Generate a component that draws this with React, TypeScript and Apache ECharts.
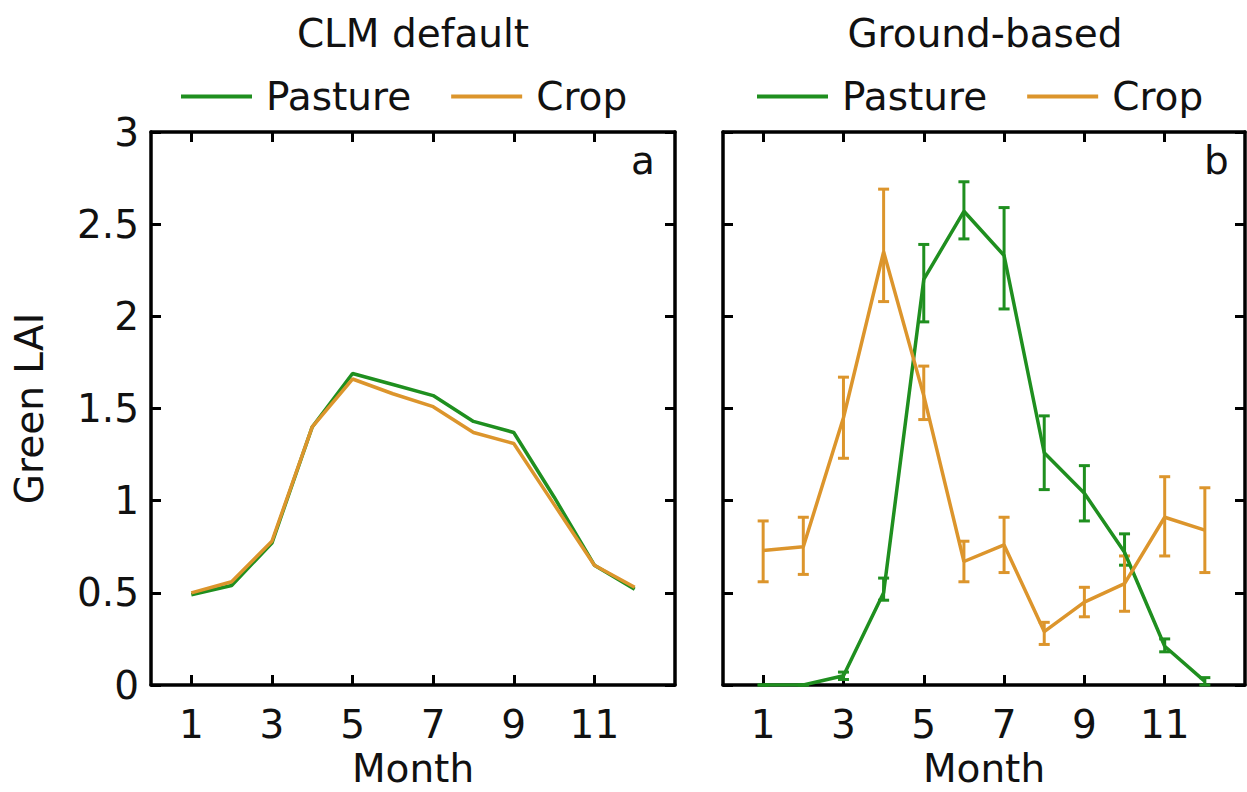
import React, { useEffect, useRef } from "react";
import * as echarts from "echarts";

// ---- data ----
const months = [1, 2, 3, 4, 5, 6, 7, 8, 9, 10, 11, 12];
const xTickValues = [1, 3, 5, 7, 9, 11];
const panelTitles = ["CLM default", "Ground-based"];
const panelLetters = ["a", "b"];
const seriesNames = ["Pasture", "Crop"];

// panel a: CLM default
const clmPasture = [0.49, 0.54, 0.77, 1.4, 1.69, 1.63, 1.57, 1.43, 1.37, 1.02, 0.65, 0.52];
const clmCrop = [0.5, 0.56, 0.78, 1.4, 1.66, 1.58, 1.51, 1.37, 1.31, 0.98, 0.65, 0.53];

// panel b: ground-based (mean, low, high)
const groundPasture = [0.0, 0.0, 0.05, 0.5, 2.2, 2.57, 2.33, 1.26, 1.04, 0.72, 0.21, 0.02];
const groundPastureLow = [0.0, 0.0, 0.03, 0.46, 1.97, 2.42, 2.04, 1.06, 0.89, 0.65, 0.18, 0.0];
const groundPastureHigh = [0.0, 0.0, 0.07, 0.58, 2.39, 2.73, 2.59, 1.46, 1.19, 0.82, 0.25, 0.04];

const groundCrop = [0.73, 0.75, 1.45, 2.35, 1.57, 0.67, 0.76, 0.29, 0.45, 0.55, 0.91, 0.84];
const groundCropLow = [0.56, 0.6, 1.23, 2.08, 1.44, 0.56, 0.61, 0.22, 0.37, 0.4, 0.7, 0.61];
const groundCropHigh = [0.89, 0.91, 1.67, 2.69, 1.73, 0.78, 0.91, 0.34, 0.53, 0.7, 1.13, 1.07];

const GREEN = "#1f8f1f";
const ORANGE = "#dc952c";
const FONT = "DejaVu Sans";
const FS = 39;

function xAxisCfg(gridIndex: number, position: "top" | "bottom") {
  const bottom = position === "bottom";
  return {
    type: "value",
    gridIndex,
    position,
    min: 0,
    max: 13,
    axisLine: { show: true, onZero: false, lineStyle: { color: "#000", width: 3.5 } },
    axisTick: {
      show: true,
      inside: true,
      length: 10,
      customValues: xTickValues,
      lineStyle: { color: "#000", width: 3 },
    },
    axisLabel: {
      show: bottom,
      customValues: xTickValues,
      fontSize: FS,
      fontFamily: FONT,
      color: "#111",
      margin: 20,
    },
    splitLine: { show: false },
    name: bottom ? "Month" : "",
    nameLocation: "middle",
    nameGap: 63,
    nameTextStyle: { fontSize: FS, fontFamily: FONT, color: "#111" },
  };
}

function yAxisCfg(gridIndex: number, position: "left" | "right", labels: boolean) {
  return {
    type: "value",
    gridIndex,
    position,
    min: 0,
    max: 3,
    interval: 0.5,
    axisLine: { show: true, onZero: false, lineStyle: { color: "#000", width: 3.5 } },
    axisTick: { show: true, inside: true, length: 10, lineStyle: { color: "#000", width: 3 } },
    axisLabel: { show: labels, fontSize: FS, fontFamily: FONT, color: "#111", margin: 12 },
    splitLine: { show: false },
    name: labels ? "Green LAI" : "",
    nameLocation: "middle",
    nameRotate: 90,
    nameGap: 102,
    nameTextStyle: { fontSize: FS, fontFamily: FONT, color: "#111" },
  };
}

function errorSeries(name: string, low: number[], high: number[], color: string) {
  return {
    type: "custom",
    name,
    xAxisIndex: 2,
    yAxisIndex: 2,
    data: months.map((m, i) => [m, low[i], high[i]]),
    encode: { x: 0, y: [1, 2] },
    z: 3,
    renderItem: (params: any, api: any) => {
      const x = api.value(0);
      const top = api.coord([x, api.value(2)]);
      const bot = api.coord([x, api.value(1)]);
      const w = 5.5;
      const style = { stroke: color, lineWidth: 3 };
      return {
        type: "group",
        children: [
          { type: "line", shape: { x1: top[0], y1: top[1], x2: bot[0], y2: bot[1] }, style },
          { type: "line", shape: { x1: top[0] - w, y1: top[1], x2: top[0] + w, y2: top[1] }, style },
          { type: "line", shape: { x1: bot[0] - w, y1: bot[1], x2: bot[0] + w, y2: bot[1] }, style },
        ],
      };
    },
  };
}

function lineSeries(name: string, values: number[], color: string, axis: number) {
  return {
    type: "line",
    name,
    xAxisIndex: axis,
    yAxisIndex: axis,
    data: months.map((m, i) => [m, values[i]]),
    symbol: "none",
    lineStyle: { color, width: 3.5 },
    itemStyle: { color },
    z: 4,
  };
}

export default function App() {
  const ref = useRef<HTMLDivElement>(null);
  useEffect(() => {
    if (!ref.current) return;
    const chart = echarts.init(ref.current, null, { renderer: "svg" });
    const legendBase = {
      data: seriesNames,
      top: 77,
      padding: 0,
      itemWidth: 71,
      itemHeight: 4,
      itemGap: 40,
      icon: "rect",
      selectedMode: false,
      textStyle: { fontSize: FS, fontFamily: FONT, color: "#111", padding: [0, 0, 0, 9] },
    };
    const titleStyle = { fontSize: FS, fontFamily: FONT, color: "#111", fontWeight: "normal" };
    chart.setOption({
      animation: false,
      backgroundColor: "#fff",
      title: [
        { text: panelTitles[0], left: 413, top: 14, textAlign: "center", padding: 0, textStyle: titleStyle },
        { text: panelTitles[1], left: 985, top: 14, textAlign: "center", padding: 0, textStyle: titleStyle },
      ],
      legend: [
        { ...legendBase, left: 181 },
        { ...legendBase, left: 757 },
      ],
      grid: [
        { left: 151, top: 132, width: 524, height: 553, containLabel: false, outerBoundsMode: "none" },
        { left: 723, top: 132, width: 522, height: 553, containLabel: false, outerBoundsMode: "none" },
      ],
      xAxis: [xAxisCfg(0, "bottom"), xAxisCfg(0, "top"), xAxisCfg(1, "bottom"), xAxisCfg(1, "top")],
      yAxis: [yAxisCfg(0, "left", true), yAxisCfg(0, "right", false), yAxisCfg(1, "left", false), yAxisCfg(1, "right", false)],
      graphic: [
        {
          type: "text",
          left: 631,
          top: 141,
          style: { text: panelLetters[0], fontSize: FS, fontFamily: FONT, fill: "#111" },
        },
        {
          type: "text",
          left: 1204,
          top: 141,
          style: { text: panelLetters[1], fontSize: FS, fontFamily: FONT, fill: "#111" },
        },
      ],
      series: [
        lineSeries(seriesNames[0], clmPasture, GREEN, 0),
        lineSeries(seriesNames[1], clmCrop, ORANGE, 0),
        errorSeries("Pasture error", groundPastureLow, groundPastureHigh, GREEN),
        errorSeries("Crop error", groundCropLow, groundCropHigh, ORANGE),
        lineSeries(seriesNames[0], groundPasture, GREEN, 2),
        lineSeries(seriesNames[1], groundCrop, ORANGE, 2),
      ],
    });
    return () => chart.dispose();
  }, []);
  return (
    <div
      ref={ref}
      style={{ position: "absolute", left: 0, top: 0, width: 1247, height: 792, background: "#fff" }}
    />
  );
}
